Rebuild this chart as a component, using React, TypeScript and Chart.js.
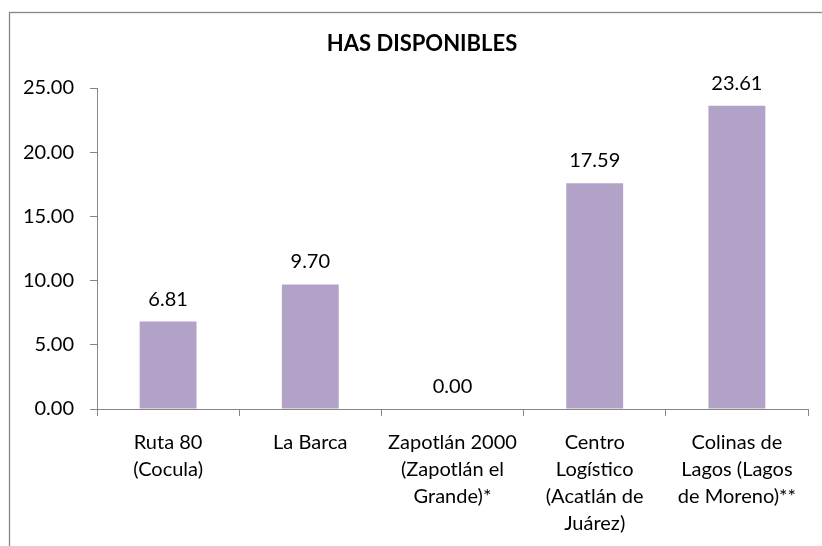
import React, { useEffect, useRef } from "react";
import { Chart, registerables } from "chart.js";

Chart.register(...registerables);

const chartTitle = "HAS DISPONIBLES";
const categories: string[][] = [
  ["Ruta 80", "(Cocula)"],
  ["La Barca"],
  ["Zapotlán 2000", "(Zapotlán el", "Grande)*"],
  ["Centro", "Logístico", "(Acatlán de", "Juárez)"],
  ["Colinas de", "Lagos (Lagos", "de Moreno)**"],
];
const hectares: number[] = [6.81, 9.7, 0.0, 17.59, 23.61];
const yMin = 0;
const yMax = 25;
const yStep = 5;

const FONT = "Lato, 'Open Sans', sans-serif";
const GRAY = "#868686";

const framePlugin = {
  id: "frameAndLabels",
  beforeDraw(chart: any) {
    const ctx = chart.ctx;
    ctx.save();
    ctx.fillStyle = "#ffffff";
    ctx.fillRect(0, 0, chart.width, chart.height);
    ctx.strokeStyle = GRAY;
    ctx.lineWidth = 1.3;
    ctx.strokeRect(9.5, 12.5, 1000, 1000);
    ctx.fillStyle = "#000000";
    ctx.font = `bold 22px ${FONT}`;
    ctx.textAlign = "center";
    ctx.textBaseline = "middle";
    ctx.fillText(chartTitle, 422, 44);
    ctx.restore();
  },
  afterDatasetsDraw(chart: any) {
    const ctx = chart.ctx;
    const meta = chart.getDatasetMeta(0);
    const data = chart.data.datasets[0].data as number[];
    ctx.save();
    ctx.fillStyle = "#000000";
    ctx.font = `20px ${FONT}`;
    ctx.textAlign = "center";
    ctx.textBaseline = "alphabetic";
    meta.data.forEach((bar: any, i: number) => {
      ctx.fillText(data[i].toFixed(2), bar.x, bar.y - 16);
    });
    ctx.restore();
  },
};

export default function App() {
  const ref = useRef<HTMLCanvasElement | null>(null);
  useEffect(() => {
    if (!ref.current) return;
    const chart = new Chart(ref.current, {
      type: "bar",
      data: {
        labels: categories,
        datasets: [
          {
            data: hectares,
            backgroundColor: "#B3A2C7",
            borderWidth: 0,
            barPercentage: 0.4,
            categoryPercentage: 1,
          },
        ],
      },
      options: {
        animation: false,
        responsive: false,
        devicePixelRatio: 1,
        layout: { padding: { top: 88, right: 14, left: 0, bottom: 0 } },
        plugins: {
          legend: { display: false },
          title: { display: false },
          tooltip: { enabled: false },
        },
        scales: {
          x: {
            offset: true,
            grid: {
              offset: true,
              drawOnChartArea: false,
              drawTicks: true,
              tickLength: 7,
              color: GRAY,
            },
            border: { display: true, color: GRAY, width: 1 },
            ticks: {
              color: "#000000",
              font: { family: FONT, size: 20, lineHeight: 1.35 },
              padding: 13,
              maxRotation: 0,
              minRotation: 0,
              autoSkip: false,
            },
            afterFit(scale: any) {
              scale.height = 137;
            },
          },
          y: {
            min: yMin,
            max: yMax,
            grid: {
              drawOnChartArea: false,
              drawTicks: true,
              tickLength: 7,
              color: GRAY,
            },
            border: { display: true, color: GRAY, width: 1 },
            ticks: {
              stepSize: yStep,
              color: "#000000",
              font: { family: FONT, size: 20 },
              padding: 16,
              callback: (v: any) => Number(v).toFixed(2),
            },
            afterFit(scale: any) {
              scale.width = 97;
            },
          },
        },
      },
      plugins: [framePlugin],
    });
    return () => chart.destroy();
  }, []);
  return (
    <div style={{ position: "fixed", left: 0, top: 0, width: 822, height: 546, background: "#fff" }}>
      <canvas ref={ref} width={822} height={546} style={{ display: "block" }} />
    </div>
  );
}
